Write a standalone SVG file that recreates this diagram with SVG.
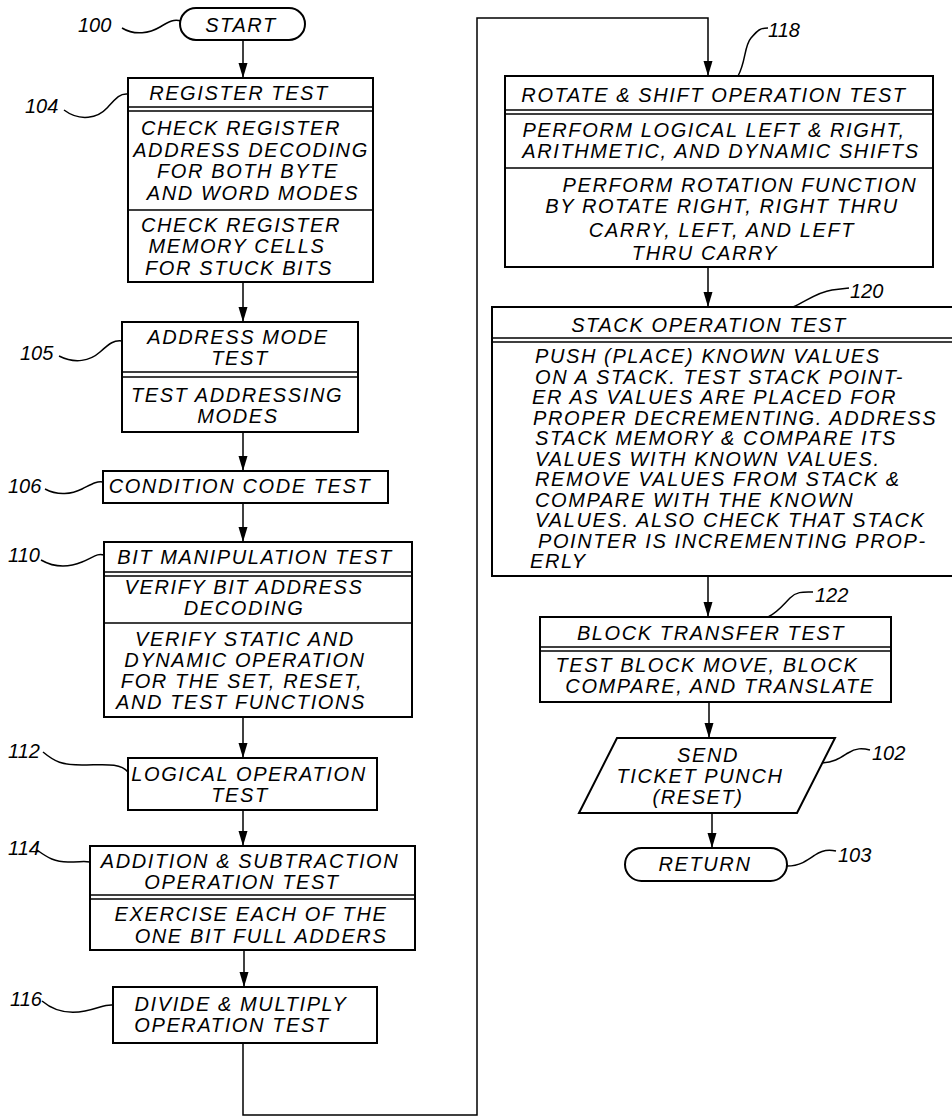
<svg xmlns="http://www.w3.org/2000/svg" width="952" height="1117" viewBox="0 0 952 1117">
<style>
.box{fill:#fff;stroke:#000;stroke-width:2}
.dv{fill:none;stroke:#000;stroke-width:1.5}
.t{font-family:"Liberation Sans",Arial,sans-serif;font-style:italic;font-size:20px;letter-spacing:1.6px;text-anchor:middle;fill:#000}
.s{text-anchor:start}
.n{font-family:"Liberation Sans",Arial,sans-serif;font-style:italic;font-size:20px;fill:#000}
.lead{fill:none;stroke:#000;stroke-width:1.5}
.conn{fill:none;stroke:#000;stroke-width:1.5}
</style>
<defs>
<marker id="arr" markerUnits="userSpaceOnUse" markerWidth="16" markerHeight="10" refX="15" refY="5" orient="auto">
<path d="M0,0.5 L15,5 L0,9.5 z" fill="#000"/>
</marker>
</defs>
<rect width="952" height="1117" fill="#fff"/>

<g id="connectors">
<path class="conn" d="M243,40 V78" marker-end="url(#arr)"/>
<path class="conn" d="M243,282 V322" marker-end="url(#arr)"/>
<path class="conn" d="M243,432 V471" marker-end="url(#arr)"/>
<path class="conn" d="M243,503 V542" marker-end="url(#arr)"/>
<path class="conn" d="M243,717 V758" marker-end="url(#arr)"/>
<path class="conn" d="M243,810 V846" marker-end="url(#arr)"/>
<path class="conn" d="M244,950 V987" marker-end="url(#arr)"/>
<path class="conn" d="M243,1043 V1115 H477 V18 H708 V76" marker-end="url(#arr)"/>
<path class="conn" d="M708,267 V307" marker-end="url(#arr)"/>
<path class="conn" d="M708,576 V617" marker-end="url(#arr)"/>
<path class="conn" d="M709,702 V738" marker-end="url(#arr)"/>
<path class="conn" d="M712,813 V848" marker-end="url(#arr)"/>
</g>

<g id="n100">
<rect class="box" x="180" y="8" width="125" height="32" rx="16"/>
<text class="t" x="241" y="32">START</text>
<text class="n" x="78" y="32">100</text>
<path class="lead" d="M122,28 C135,36 150,33 160,27 S174,19 181,21"/>
</g>

<g id="n104">
<rect class="box" x="128" y="78" width="245" height="204"/>
<path class="dv" d="M128,107 H373 M128,111 H373 M128,210 H373"/>
<text class="t" x="239" y="100">REGISTER TEST</text>
<text class="t" x="241" y="135">CHECK REGISTER</text>
<text class="t" x="251" y="157">ADDRESS DECODING</text>
<text class="t" x="248" y="178">FOR BOTH BYTE</text>
<text class="t" x="253" y="200">AND WORD MODES</text>
<text class="t" x="241" y="232">CHECK REGISTER</text>
<text class="t" x="237" y="253">MEMORY CELLS</text>
<text class="t" x="239" y="275">FOR STUCK BITS</text>
<text class="n" x="25" y="113">104</text>
<path class="lead" d="M64,110 C80,122 98,118 107,108 S120,93 128,94"/>
</g>

<g id="n105">
<rect class="box" x="122" y="322" width="236" height="110"/>
<path class="dv" d="M122,372 H358 M122,377 H358"/>
<text class="t" x="238" y="344">ADDRESS MODE</text>
<text class="t" x="240" y="365">TEST</text>
<text class="t" x="237" y="402">TEST ADDRESSING</text>
<text class="t" x="238" y="423">MODES</text>
<text class="n" x="20" y="360">105</text>
<path class="lead" d="M59,356 C75,364 90,361 100,352 S114,340 122,341"/>
</g>

<g id="n106">
<rect class="box" x="103" y="471" width="285" height="32"/>
<text class="t" x="240" y="493">CONDITION CODE TEST</text>
<text class="n" x="8" y="493">106</text>
<path class="lead" d="M45,489 C58,496 72,494 82,489 S96,481 103,482"/>
</g>

<g id="n110">
<rect class="box" x="104" y="542" width="308" height="175"/>
<path class="dv" d="M104,572 H412 M104,576 H412 M104,623 H412"/>
<text class="t" x="255" y="564">BIT MANIPULATION TEST</text>
<text class="t" x="244" y="594">VERIFY BIT ADDRESS</text>
<text class="t" x="244" y="615">DECODING</text>
<text class="t" x="245" y="646">VERIFY STATIC AND</text>
<text class="t" x="245" y="667">DYNAMIC OPERATION</text>
<text class="t" x="242" y="688">FOR THE SET, RESET,</text>
<text class="t" x="241" y="709">AND TEST FUNCTIONS</text>
<text class="n" x="8" y="562">110</text>
<path class="lead" d="M41,560 C55,568 70,567 82,562 S97,553 104,555"/>
</g>

<g id="n112">
<rect class="box" x="128" y="758" width="249" height="52"/>
<text class="t" x="249" y="781">LOGICAL OPERATION</text>
<text class="t" x="240" y="802">TEST</text>
<text class="n" x="8" y="758">112</text>
<path class="lead" d="M43,752 C55,762 62,765 82,765 S120,762 128,772"/>
</g>

<g id="n114">
<rect class="box" x="90" y="846" width="325" height="104"/>
<path class="dv" d="M90,895 H415 M90,899 H415"/>
<text class="t" x="250" y="868">ADDITION &amp; SUBTRACTION</text>
<text class="t" x="242" y="889">OPERATION TEST</text>
<text class="t" x="251" y="921">EXERCISE EACH OF THE</text>
<text class="t" x="261" y="943">ONE BIT FULL ADDERS</text>
<text class="n" x="8" y="855">114</text>
<path class="lead" d="M37,850 C48,858 55,862 68,862 S84,861 90,862"/>
</g>

<g id="n116">
<rect class="box" x="113" y="987" width="264" height="56"/>
<text class="t" x="241" y="1011">DIVIDE &amp; MULTIPLY</text>
<text class="t" x="232" y="1032">OPERATION TEST</text>
<text class="n" x="10" y="1006">116</text>
<path class="lead" d="M42,1001 C55,1012 70,1014 85,1011 S105,1004 113,1005"/>
</g>

<g id="n118">
<rect class="box" x="505" y="76" width="428" height="191"/>
<path class="dv" d="M505,110 H933 M505,114 H933 M505,168 H933"/>
<text class="t" x="714" y="102">ROTATE &amp; SHIFT OPERATION TEST</text>
<text class="t" x="714" y="137">PERFORM LOGICAL LEFT &amp; RIGHT,</text>
<text class="t" x="721" y="158">ARITHMETIC, AND DYNAMIC SHIFTS</text>
<text class="t" x="740" y="192">PERFORM ROTATION FUNCTION</text>
<text class="t" x="722" y="213">BY ROTATE RIGHT, RIGHT THRU</text>
<text class="t" x="722" y="237">CARRY, LEFT, AND LEFT</text>
<text class="t" x="705" y="260">THRU CARRY</text>
<text class="n" x="768" y="37">118</text>
<path class="lead" d="M738,76 C746,62 744,46 751,38 S760,28 768,28"/>
</g>

<g id="n120">
<rect class="box" x="492" y="307" width="466" height="269"/>
<path class="dv" d="M492,338 H958 M492,342 H958"/>
<text class="t" x="709" y="332">STACK OPERATION TEST</text>
<text class="t s" x="535" y="363">PUSH (PLACE) KNOWN VALUES</text>
<text class="t s" x="535" y="383.5">ON A STACK. TEST STACK POINT-</text>
<text class="t s" x="532" y="404">ER AS VALUES ARE PLACED FOR</text>
<text class="t s" x="533" y="424.5">PROPER DECREMENTING. ADDRESS</text>
<text class="t s" x="535" y="445">STACK MEMORY &amp; COMPARE ITS</text>
<text class="t s" x="535" y="465.5">VALUES WITH KNOWN VALUES.</text>
<text class="t s" x="535" y="486">REMOVE VALUES FROM STACK &amp;</text>
<text class="t s" x="535" y="506.5">COMPARE WITH THE KNOWN</text>
<text class="t s" x="535" y="527">VALUES. ALSO CHECK THAT STACK</text>
<text class="t s" x="538" y="547.5">POINTER IS INCREMENTING PROP-</text>
<text class="t s" x="530" y="568">ERLY</text>
<text class="n" x="850" y="298">120</text>
<path class="lead" d="M793,307 C808,300 818,292 832,290 L849,288"/>
</g>

<g id="n122">
<rect class="box" x="540" y="617" width="351" height="85"/>
<path class="dv" d="M540,647 H891 M540,651 H891"/>
<text class="t" x="711" y="640">BLOCK TRANSFER TEST</text>
<text class="t" x="707" y="672">TEST BLOCK MOVE, BLOCK</text>
<text class="t" x="720" y="693">COMPARE, AND TRANSLATE</text>
<text class="n" x="815" y="602">122</text>
<path class="lead" d="M768,617 C778,612 783,605 790,598 S804,592 813,592"/>
</g>

<g id="n102">
<polygon class="box" points="617,738 835,738 797,813 579,813"/>
<text class="t" x="708" y="762">SEND</text>
<text class="t" x="700" y="783">TICKET PUNCH</text>
<text class="t" x="698" y="804">(RESET)</text>
<text class="n" x="872" y="760">102</text>
<path class="lead" d="M822,763 C835,762 840,758 848,753 S862,748 870,750"/>
</g>

<g id="n103">
<rect class="box" x="625" y="848" width="162" height="33" rx="16.5"/>
<text class="t" x="705" y="871">RETURN</text>
<text class="n" x="838" y="862">103</text>
<path class="lead" d="M787,866 C800,866 808,860 815,855 S828,849 836,851"/>
</g>
</svg>
